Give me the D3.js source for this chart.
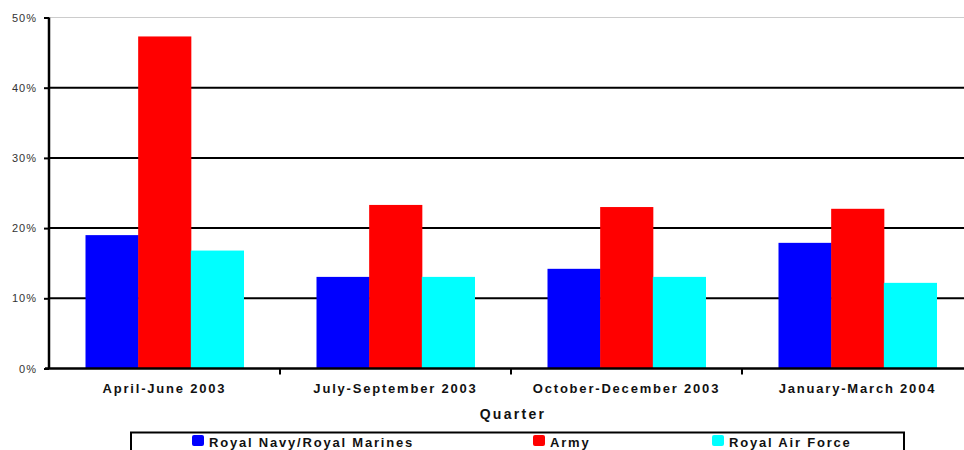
<!DOCTYPE html>
<html><head><meta charset="utf-8">
<script src="https://cdn.jsdelivr.net/npm/d3@7"></script>
<style>body{margin:0;background:#fff}svg{display:block;font-family:"Liberation Sans",Arial,sans-serif}</style>
</head><body><svg id="c" width="964" height="450"></svg>
<script>
const categories = ["April-June 2003","July-September 2003","October-December 2003","January-March 2004"];
const seriesNames = ["Royal Navy/Royal Marines","Army","Royal Air Force"];
const navy = [19.0, 13.05, 14.2, 17.9];
const army = [47.3, 23.3, 23.0, 22.75];
const raf = [16.8, 13.05, 13.05, 12.2];
const colors = ["#0000ff","#ff0000","#00ffff"];
const yTicks = [0,10,20,30,40,50];
const xTitle = "Quarter";

const series = [navy, army, raf];
const svg = d3.select("#c");
const x0 = 49, x1 = 973, yTop = 17.5, yBot = 368.5;
const y = d3.scaleLinear().domain([0,50]).range([yBot,yTop]);
const x = d3.scaleBand().domain(categories).range([x0,x1]).paddingInner(0).paddingOuter(0);
const groupW = 158;
const xs = d3.scaleBand().domain(d3.range(series.length)).range([0,groupW]).padding(0);

// gridlines
svg.append("g").selectAll("line").data(yTicks.filter(t=>t>0)).join("line")
  .attr("x1",x0).attr("x2",964).attr("y1",d=>y(d)).attr("y2",d=>y(d))
  .attr("stroke",d=>d===50?"#cccccc":"#000").attr("stroke-width",d=>d===50?1:2);

// bars
const g = svg.append("g");
categories.forEach((c,i)=>{
  const gx = x(c) + (x.bandwidth()-groupW)/2;
  series.forEach((s,j)=>{
    g.append("rect").attr("x",gx+xs(j)).attr("width",xs.bandwidth()+0.5)
      .attr("y",y(s[i])).attr("height",y(0)-y(s[i])).attr("fill",colors[j]);
  });
});

// y axis
const yAxis = d3.axisLeft(y).tickValues(yTicks).tickFormat(d=>d+"%").tickSize(5).tickPadding(7);
const ya = svg.append("g").attr("transform",`translate(${x0},0)`).call(yAxis);
ya.select(".domain").attr("stroke","#000").attr("stroke-width",2.5).attr("d",`M0,${yTop}V${yBot}`);
ya.selectAll(".tick line").attr("stroke","#000").attr("stroke-width",2);
ya.selectAll(".tick text").attr("font-size",11).attr("fill","#333").attr("letter-spacing","1px")
  .attr("font-family","'Liberation Sans',Arial,sans-serif");

// x axis
const xa = svg.append("g").attr("transform",`translate(0,${yBot})`);
xa.append("line").attr("x1",x0-4).attr("x2",964).attr("y1",0).attr("y2",0).attr("stroke","#000").attr("stroke-width",2.5);
xa.selectAll(".bt").data(categories.slice(1)).join("line").attr("class","bt")
  .attr("x1",d=>x(d)).attr("x2",d=>x(d)).attr("y1",0).attr("y2",6).attr("stroke","#000").attr("stroke-width",2);
xa.selectAll(".lbl").data(categories).join("text").attr("class","lbl")
  .attr("x",d=>x(d)+x.bandwidth()/2).attr("y",24).attr("text-anchor","middle")
  .attr("font-size",13).attr("font-weight","bold").attr("letter-spacing","1.8px").attr("fill","#111").text(d=>d);

svg.append("text").attr("x",513).attr("y",419).attr("text-anchor","middle")
  .attr("font-size",14).attr("font-weight","bold").attr("letter-spacing","2.3px").attr("fill","#111").text(xTitle);

// legend
svg.append("rect").attr("x",131).attr("y",432.5).attr("width",773).attr("height",30)
  .attr("fill","#fff").attr("stroke","#000").attr("stroke-width",2);
const legX = [192, 533, 712];
seriesNames.forEach((n,j)=>{
  svg.append("rect").attr("x",legX[j]).attr("y",435).attr("width",12).attr("height",11).attr("rx",2).attr("fill",colors[j]);
  svg.append("text").attr("x",legX[j]+17).attr("y",446.5).attr("font-size",13).attr("font-weight","bold")
    .attr("letter-spacing","1.8px").attr("fill","#111").text(n);
});
</script></body></html>
